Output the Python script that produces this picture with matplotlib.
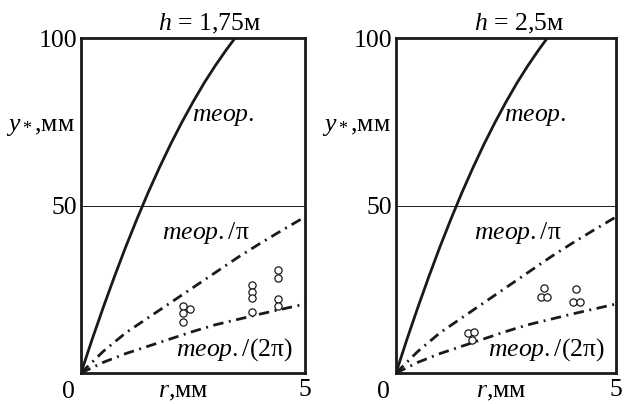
import matplotlib
matplotlib.use("Agg")
import matplotlib.pyplot as plt

plt.rcParams["font.family"] = ["Liberation Serif", "DejaVu Serif"]
plt.rcParams["mathtext.fontset"] = "custom"
plt.rcParams["mathtext.rm"] = "Liberation Serif"
plt.rcParams["mathtext.it"] = "Liberation Serif:italic"
plt.rcParams["lines.scale_dashes"] = False

# theoretical curve y*(r), mm
r_theory = [0, 0.25, 0.5, 0.75, 1.0, 1.25, 1.5, 1.75, 2.0, 2.25, 2.5, 2.75,
            3.0, 3.25, 3.44]
y_theory = [0, 10.1, 19.7, 28.9, 37.7, 46.0, 53.9, 61.3, 68.3, 74.8, 80.9,
            86.6, 91.8, 96.6, 100]

# theory divided by pi and by 2*pi
r_div = [0, 0.5, 1.0, 1.5, 2.0, 2.5, 3.0, 3.5, 4.0, 4.5, 5.0]
y_pi = [0, 6.5, 12, 16.5, 21, 25.5, 30, 34.5, 38.7, 42.7, 46.6]
y_2pi = [0, 3.2, 5.8, 8.0, 10.2, 12.4, 14.4, 16.0, 17.6, 19.1, 20.6]

# measurements, h = 1.75 m
r_meas_1 = [2.27, 2.43, 2.27, 2.27, 3.81, 3.81, 3.81, 3.81, 4.39, 4.39, 4.39, 4.39]
y_meas_1 = [20.1, 19.2, 18.0, 15.3, 26.2, 24.3, 22.3, 18.3, 30.7, 28.4, 22.1, 20.1]

# measurements, h = 2.5 m
r_meas_2 = [1.63, 1.78, 1.73, 3.37, 3.29, 3.44, 4.09, 4.02, 4.18]
y_meas_2 = [12.0, 12.3, 9.9, 25.3, 22.6, 22.6, 25.0, 21.1, 21.1]

titles = ["1,75", "2,5"]
panels = [(r_meas_1, y_meas_1), (r_meas_2, y_meas_2)]

fig = plt.figure(figsize=(6.25, 4.04), dpi=100)
positions = [[81 / 625, 31 / 404, 224 / 625, 335 / 404],
             [396 / 625, 31 / 404, 220 / 625, 335 / 404]]
title_dx = [17 / 224, 13 / 220]
xlabel_x = [0.455, 0.48]

dashdot = (0, (7.5, 4, 1.4, 4))
ink = "#1a1a1a"
fs = 18.5

for pos, (rm, ym), h, tdx, xlx in zip(positions, panels, titles, title_dx, xlabel_x):
    ax = fig.add_axes(pos)
    ax.set_xlim(0, 5)
    ax.set_ylim(0, 100)
    for s in ax.spines.values():
        s.set_linewidth(2.0)
        s.set_color(ink)
    ax.axhline(50, color=ink, lw=0.7)
    ax.plot(r_theory, y_theory, color=ink, lw=2.0, solid_capstyle="butt",
            solid_joinstyle="round")
    ax.plot(r_div, y_pi, color=ink, lw=2.0, linestyle=dashdot)
    ax.plot(r_div, y_2pi, color=ink, lw=2.0, linestyle=dashdot)
    ax.plot(rm, ym, linestyle="none", marker="o", ms=5.2, mfc="white",
            mec=ink, mew=0.9)

    ax.set_xticks([5])
    ax.set_xticklabels(["5"])
    ax.set_yticks([50, 100])
    ax.set_yticklabels(["50", "100"])
    ax.tick_params(length=0, labelsize=fs, pad=3)
    ax.tick_params(axis="x", pad=4)

    ax.text(-0.058, -0.025, "0", transform=ax.transAxes, ha="center", va="top",
            fontsize=fs)
    ax.text(xlx, -0.025, r"$r$,мм", transform=ax.transAxes, ha="center",
            va="top", fontsize=fs)
    ax.text(-0.18, 0.735, r"$y_*$,мм", transform=ax.transAxes, ha="center",
            va="center", fontsize=fs)
    ax.text(0.5 + tdx, 1.005, r"$h$ = " + h + "м", transform=ax.transAxes,
            ha="center", va="bottom", fontsize=fs)

    ax.text(3.17, 76.4, r"$теор.$", ha="center", va="center", fontsize=fs)
    ax.text(2.78, 41.8, r"$теор.$/π", ha="center", va="center", fontsize=fs)
    ax.text(3.42, 6.9, r"$теор.$/(2π)", ha="center", va="center", fontsize=fs)

fig.savefig("out.png", dpi=100)
